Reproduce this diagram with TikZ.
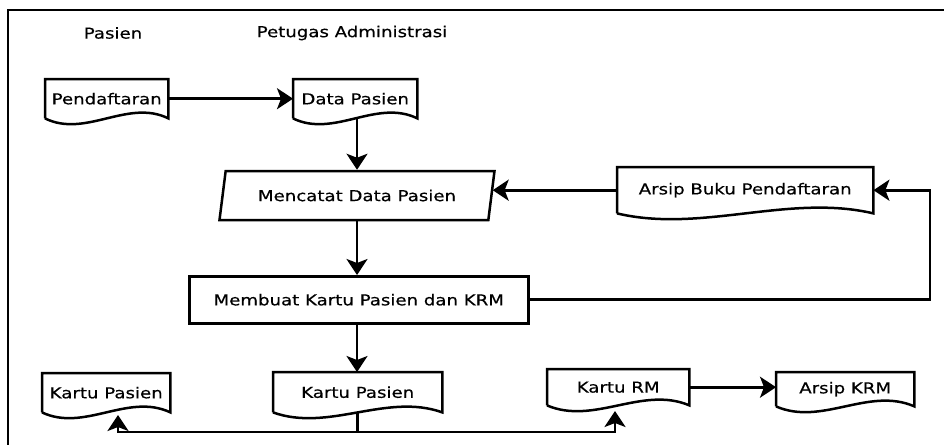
\documentclass[tikz,border=0pt]{standalone}
\usepackage{fontspec}
\setmainfont[FakeStretch=1.21,FakeBold=0.5]{DejaVu Sans}
\usetikzlibrary{arrows.meta,calc,shapes.geometric}
\begin{document}
\begin{tikzpicture}[x=1pt,y=-1pt,
  every node/.style={font=\fontsize{15}{18}\selectfont, inner sep=0pt},
  shapeline/.style={line width=2.5pt, line join=miter},
  docbox/.style={rectangle, anchor=north west},
  procbox/.style={rectangle, draw, line width=2.5pt, anchor=north west},
  inputbox/.style={trapezium, draw, line width=2.5pt, trapezium left angle=62,
    trapezium right angle=118, trapezium stretches body,
    minimum width=275pt, minimum height=49pt},
  arr/.style={line width=2.6pt, -{Stealth[length=16pt,width=21pt,inset=4pt]}},
  plain/.style={line width=2.5pt}
]
\useasboundingbox (0,0) rectangle (944,445);
\fill[white] (0,0) rectangle (944,445);
% frame
\draw[line width=2pt] (944,10) -- (8,10) -- (8,445);

% headings
\node (hpas) at (113,33) {Pasien};
\node (hpet) at (352,33) {Petugas Administrasi};

% documents
\node[docbox, minimum width=123pt, minimum height=39pt] (pend) at (45,79) {Pendaftaran};
\node[docbox, minimum width=124pt, minimum height=39pt] (data) at (293,79) {Data Pasien};
\node[docbox, minimum width=256pt, minimum height=46pt] (ab) at (617,167) {Arsip Buku Pendaftaran};
\node[docbox, minimum width=128pt, minimum height=39pt] (kpl) at (42,373) {Kartu Pasien};
\node[docbox, minimum width=169pt, minimum height=40pt] (kpm) at (273,372) {Kartu Pasien};
\node[docbox, minimum width=142pt, minimum height=36pt] (krm) at (547,369) {Kartu RM};
\node[docbox, minimum width=138pt, minimum height=34pt] (akrm) at (776,372) {Arsip KRM};

\foreach \n in {pend,data,ab,kpl,kpm,krm,akrm}{
  \draw[shapeline] (\n.south west) -- (\n.north west) -- (\n.north east) -- (\n.south east)
    .. controls ($(\n.south east)!0.33!(\n.south west)+(0,-20)$)
       and ($(\n.south east)!0.67!(\n.south west)+(0,20)$) .. (\n.south west);
}

% input (parallelogram)
\node[inputbox] (mc) at (357,195.5) {Mencatat Data Pasien};
% process
\node[procbox, minimum width=339pt, minimum height=47pt] (mk) at (188,275) {Membuat Kartu Pasien dan KRM};

% coordinates for free ends
\coordinate (rturn) at (930,0);
\coordinate (bus) at (0,432);
\coordinate (kplin) at (118,415);
\coordinate (krmin) at (615,411);

% connectors
\draw[arr] (pend.east) -- (pend.east -| data.west);
\draw[arr] (data.south -| mc.north) -- (mc.north);
\draw[arr] (ab.west) -- (mc.east |- ab.west);
\draw[arr] (mc.south) -- (mc.south |- mk.north);
\draw[arr] (mk.east) -| (rturn |- ab.east) -- (ab.east);
\draw[arr] (mk.south -| mc.south) -- (mc.south |- kpm.north);
\draw[arr] (kpm.south) |- (kplin |- bus) -- (kplin);
\draw[arr] (kpm.south) |- (krmin |- bus) -- (krmin);
\draw[arr] (krm.east) -- (krm.east -| akrm.west);
\end{tikzpicture}
\end{document}
